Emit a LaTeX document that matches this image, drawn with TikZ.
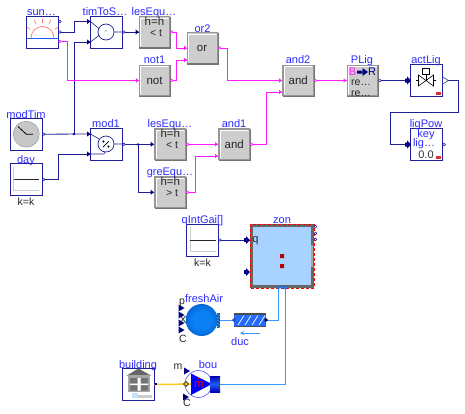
\documentclass[tikz,border=0pt]{standalone}
\usepackage{fontspec}
\setmainfont{Liberation Sans}
\usetikzlibrary{calc,shadings}
\definecolor{lblue}{HTML}{2B2BFF}
\definecolor{mblue}{HTML}{1E1E96}
\definecolor{navy2}{HTML}{00007F}
\definecolor{pink2}{HTML}{FF1CFF}
\definecolor{fluid}{HTML}{3399FF}
\definecolor{greyfill}{HTML}{CDCDCD}
\definecolor{greyedge}{HTML}{969696}
\definecolor{orange2}{HTML}{FFC81E}
\definecolor{zonefill}{HTML}{A8D2FF}
\definecolor{ballin}{HTML}{0A80F5}
\definecolor{ballmid}{HTML}{0568D8}
\definecolor{ballout}{HTML}{02307F}
\pgfdeclareradialshading{fluidball}{\pgfpoint{0pt}{0pt}}{color(0bp)=(ballin); color(14bp)=(ballin); color(25bp)=(ballmid); color(35bp)=(ballout); color(60bp)=(ballout)}
\tikzset{
  x=1pt,y=-1pt,
  iconbox/.style={draw=mblue,line width=0.8pt,fill=white,minimum width=32pt,minimum height=32pt,inner sep=0pt,outer sep=0pt},
  logicbox/.style={draw=greyedge,line width=1.4pt,fill=greyfill,minimum width=30.5pt,minimum height=30.5pt,inner sep=0pt,outer sep=0.7pt},
  lab/.style={text=lblue,font=\fontsize{11}{11}\selectfont,inner sep=0pt,anchor=base},
  blk/.style={text=black!85,font=\fontsize{10.5}{11}\selectfont,inner sep=0pt,anchor=base},
  logt/.style={font=\fontsize{11.5}{12}\selectfont,text=black!85,inner sep=0pt},
  sig/.style={draw=mblue,line width=0.8pt},
  boolw/.style={draw=pink2,line width=0.8pt},
  flu/.style={draw=fluid,line width=0.8pt},
  tipb/.pic={\fill[navy2] (-3.5,-2.6) -- (0,0) -- (-3.5,2.6) -- cycle;},
  tipp/.pic={\fill[pink2] (-3,-2.2) -- (0,0) -- (-3,2.2) -- cycle;},
  oportb/.pic={\draw[mblue,fill=white,line width=0.5pt] (1.2,0) circle (1.3);},
  oportp/.pic={\draw[pink2,fill=white,line width=0.6pt] (1.2,0) circle (1.3);},
  bigtip/.pic={\fill[navy2] (-6,-2) -- (-4,-2) -- (-4,-4) -- (0,0) -- (-4,4) -- (-4,2) -- (-6,2) -- cycle;},
  sidetip/.pic={\fill[navy2] (-5,-3.5) -- (1,0) -- (-5,3.5) -- cycle;},
}
\begin{document}
\begin{tikzpicture}
\useasboundingbox (0,0) rectangle (465,413);
% blocks
\node[iconbox] (sun) at (42.5,32) {};
\node[iconbox] (tim) at (106.5,32) {};
\node[logicbox] (les1) at (154.5,32) {};
\node[logicbox] (not) at (154.5,80.5) {};
\node[logicbox] (or) at (202.5,48) {};
\node[logicbox] (and2) at (298.3,80.5) {};
\node[logicbox] (plig) at (362.7,80.5) {};
\node[iconbox] (act) at (426.7,80.5) {};
\node[iconbox] (pow) at (426.7,144.5) {};
\node[iconbox] (clock) at (26.3,134.2) {};
\node[iconbox] (day) at (26.3,179.5) {};
\node[iconbox] (mod) at (106.5,144.3) {};
\node[logicbox] (les2) at (170.3,144.3) {};
\node[logicbox] (gre) at (170.3,192.3) {};
\node[logicbox] (and1) at (234.3,144.3) {};
\node[iconbox] (qint) at (202.7,240) {};
% bevels
\foreach \n in {les1,not,or,and2,plig,les2,gre,and1}{
  \draw[white,line width=1pt] ($(\n.south west)+(2,-2)$) -- ($(\n.north west)+(2,2)$) -- ($(\n.north east)+(-2,2)$);
  \draw[black!55,line width=1.1pt] ($(\n.south west)+(0.7,0)$) -- ($(\n.south east)+(0,0)$) -- ($(\n.north east)+(0,0.7)$);
}
% coordinates of ports
\coordinate (sunA) at (58.5,32);
\coordinate (sunP) at (58.5,41.5);
\coordinate (timA) at (90.5,21.5);
\coordinate (timB) at (90.5,42);
\coordinate (junT) at (74,134);
\coordinate (modA) at (90.5,134);
\coordinate (modB) at (90.5,154);
\coordinate (junM) at (138,144.3);
% wires blue
\draw[sig] (sunA) -- (74,32) -- (74,21.5) -- (timA);
\draw[sig] (timB) -- (74,42) -- (junT);
\draw[sig] (clock.east) -- (modA);
\fill[navy2] (junT) circle (1.4);
\draw[sig] (day.east) -- (58.5,179.5) -- (58.5,154) -- (modB);
\draw[sig] (tim.east) -- (les1.west);
\draw[sig] (mod.east) -- (les2.west);
\draw[sig] (junM) |- (gre.west);
\fill[navy2] (junM) circle (1.2);
\draw[sig] (plig.east) -- (act.west);
\draw[sig] (act.east) -- (458.3,80.5) -- (458.3,112.3) -- (390.3,112.3) -- (390.3,144.5) -- (pow.west);
\draw[sig] (qint.east) -- (250,240);
% wires boolean
\draw[boolw] (sunP) -- (67.5,41.5) -- (67.5,80.5) -- (not.west);
\draw[boolw] (les1.east) -- (176,32) -- (176,48) -- (187,48);
\draw[boolw] (not.east) -- (176,80.5) -- (176,60) -- (187,60);
\draw[boolw] (or.east) -- (227.5,48) -- (227.5,80.5) -- (and2.west);
\draw[boolw] (les2.east) -- (and1.west);
\draw[boolw] (gre.east) -- (195,192.3) -- (195,156) -- (218,156);
\draw[boolw] (and1.east) -- (266,144.3) -- (266,92) -- (282,92);
\draw[boolw] (and2.east) -- (plig.west);
% tips
\foreach \p in {(90.5,21.5),(90.5,42),(90.5,134),(90.5,154),(139,32),(154,144.3),(154,192.3)} \path \p pic {tipb};
\foreach \p in {(139,80.5),(187,48),(187,60),(282,80.5),(282,92),(218,144.3),(218,156),(346.5,80.5)} \path \p pic {tipp};
\foreach \p in {(58.7,21.5),(58.7,32)} \path \p pic {oportb};
\path (58.7,41.5) pic {oportp};
\foreach \p in {(122.7,32),(122.7,144.3),(42.5,134.2),(42.5,179.5),(218.7,240),(378.7,80.5)} \path \p pic {oportb};
\foreach \p in {(170.5,32),(170.5,80.5),(218.5,48),(186.3,144.3),(186.3,192.3),(250.3,144.3),(314.3,80.5)} \path \p pic {oportp};
% sun icon
\draw[red!55!white,line width=0.7pt] (31,38) arc (180:360:11.5);
\foreach \a in {35,65,90,115,145} \draw[red!55!white,line width=0.6pt] ($(42.5,38)+({15*cos(\a)},{-15*sin(\a)})$) -- ($(42.5,38)+({19.5*cos(\a)},{-19.5*sin(\a)})$);
\draw[fluid!60!blue,line width=1pt] (26.5,38.5) -- (58.5,38.5);
% add icon
\draw[mblue,line width=0.7pt] (106,32) circle (8);
\draw[mblue,line width=0.6pt] (90.5,21.5) -- (99,28.5) (90.5,42) -- (99,35.5) (114,32) -- (122.5,32);
\node[font=\fontsize{8}{8}\selectfont,text=black!70] (minus) at (106,32) {-};
% div icon
\draw[mblue,line width=0.7pt] (106,144) circle (8);
\draw[mblue,line width=0.6pt] (90.5,134) -- (99,139) (90.5,154) -- (104,154) -- (105,152) (114,144) -- (122.5,144);
\draw[black,line width=0.7pt] (103,147) -- (109,141);
\fill[black] (103.5,141.5) circle (1.1) (108.5,146.5) circle (1.1);
% clock
\fill[black!22] (clock.center) circle (13);
\draw[black!45,line width=0.4pt] (clock.center) circle (13);
\draw[black,line width=0.8pt] (18,126.5) -- (26.3,134.2) -- (33,134.2);
% ramps/constants
\foreach \n in {day,qint}{
  \path (\n.center) coordinate (c);
  \draw[black!20,line width=0.7pt] ($(c)+(-12.5,-13)$) -- ($(c)+(-12.5,11)$) -- ($(c)+(13,11)$);
  \draw[black!85,line width=0.8pt] ($(c)+(-12.5,0)$) -- ($(c)+(13,0)$);
}
% logic text
\node[logt] (t1) at (154.5,21) {h=h};
\node[blk,anchor=center] (t2) at (156,33) {< t};
\node[logt] (t3) at (170.3,133) {h=h};
\node[blk,anchor=center] (t4) at (172,145) {< t};
\node[logt] (t5) at (170.3,181) {h=h};
\node[blk,anchor=center] (t6) at (172,193) {> t};
\node[logt] (t7) at (154.5,80.5) {not};
\node[logt] (t8) at (202,48.5) {or};
\node[logt] (t9) at (298.3,80.5) {and};
\node[logt] (t10) at (234.3,144.5) {and};
% PLig
\node[font=\fontsize{11}{11}\selectfont,text=pink2,inner sep=0pt] (pb) at (352.5,72) {B};
\node[font=\fontsize{11}{11}\selectfont,text=navy2,inner sep=0pt] (pr) at (372,72) {R};
\fill[navy2] (357,70.5) rectangle (363,73.5) (362.5,68) -- (368,72) -- (362.5,76) -- cycle;
\node[blk] (p1) at (361,85) {re…};
\node[blk] (p2) at (361,96) {re…};
% actLig
\draw[black,line width=0.6pt,fill=white] (422.5,68) rectangle (429.5,74.5);
\draw[black,line width=0.6pt] (426,74.5) -- (426,80.5);
\draw[black,line width=0.6pt] (418.5,75) -- (433.5,86) -- (433.5,75) -- (418.5,86) -- cycle;
\draw[black,line width=0.6pt] (416,80.5) -- (418.5,80.5) (433.5,80.5) -- (436,80.5);
\fill[red!60!gray] (436,92) rectangle (441,94.5);
\fill[white] (442.7,77) -- (448.5,80.5) -- (442.7,84) -- cycle;
\draw[mblue,line width=0.5pt] (442.7,77) -- (448.5,80.5) -- (442.7,84) -- cycle;
\path (411,80.5) pic {bigtip};
\path (411,144.5) pic {bigtip};
% ligPow
\node[lab] (kk) at (426,137) {key};
\node[lab] (ll) at (424,146.5) {lig…};
\node[font=\fontsize{11}{11}\selectfont,text=black!80,inner sep=0pt] (zz) at (426,154.5) {0.0};
\fill[red!60!gray] (436,156) rectangle (441,158.5);
\path (442.9,144.5) pic {oportb};
% labels
\node[lab] at (41.5,15) {sun…};
\node[lab] at (105,15) {timToS…};
\node[lab] at (154,15) {lesEqu…};
\node[lab] at (154.5,63) {not1};
\node[lab] at (202.5,32) {or2};
\node[lab] at (298,63) {and2};
\node[lab] at (362,63) {PLig};
\node[lab] at (426,63) {actLig};
\node[lab] at (426,127) {ligPow};
\node[lab] at (26,118) {modTim};
\node[lab] at (26,163) {day};
\node[lab] at (106,127) {mod1};
\node[lab] at (170,127) {lesEqu…};
\node[lab] at (170,175) {greEqu…};
\node[lab] at (234,127) {and1};
\node[blk] at (26,205.5) {k=k};
\node[lab] at (202.5,223) {qIntGai[]};
\node[blk] at (202.5,266) {k=k};
% zone
\node[lab] at (282,223.5) {zon};
\node[draw=black!60,line width=2.6pt,fill=zonefill,minimum width=61pt,minimum height=61pt,inner sep=0pt] (zon) at (282,256) {};
\draw[red,line width=0.9pt,dash pattern=on 3pt off 2pt] (250,224) rectangle (314,288);
\fill[red!70!black] (280,254) rectangle (284,258) (280,264) rectangle (284,268);
\draw[black!35,line width=1.4pt] (312,245) -- (312,267);
\foreach \y in {226.7,233.3,239.3} \draw[mblue,fill=white,line width=0.5pt] (315.5,\y) circle (1.4);
\path (250,240) pic {bigtip};
\path (250,272) pic {bigtip};
\node[font=\fontsize{11}{11}\selectfont,text=black!85,inner sep=0pt] (q) at (255.5,241) {q};
% fluid
\coordinate (zp1) at (278.3,288);
\coordinate (zp2) at (285.3,288);
\node[circle,minimum size=32pt,inner sep=0pt,outer sep=0pt,shading=fluidball] (fa) at (201.7,320) {};
\node[minimum width=32pt,minimum height=13pt,inner sep=0pt,fill=fluid!70!blue] (duc) at (250,320) {};
\draw[black!70,line width=1.8pt] (234,313.8) -- (266,313.8);
\draw[black!70,line width=1.2pt] (234,326.5) -- (266,326.5);
\foreach \x in {238,245,252,259} \draw[white,line width=0.7pt] (\x,325) -- (\x+6,315.5);
\draw[flu] (218,320) -- (duc.west);
\draw[flu] (duc.east) -- (278.3,320) -- (zp1);
\draw[flu] (zp2) -- (285.3,384) -- (220,384);
\foreach \x in {278.3,281.8,285.3} \draw[mblue!50!fluid,fill=fluid,line width=0.5pt] (\x,287.5) circle (1.6);
\draw[mblue,fill=fluid,line width=0.5pt] (234,320) circle (1.5);
\draw[black,fill=navy2,line width=0.5pt] (266,320) circle (1.5);
\fill[black!50!fluid] (216.5,312.5) rectangle (220,327.5);
\foreach \y in {313.5,316.5,319.5,322.5,325.5} \fill[fluid] (217,\y) rectangle (218.5,\y+1.3) (218.5,\y+1.4) rectangle (220,\y+2.4);
\foreach \y in {308,315,323,330} \path (183.5,\y) pic {sidetip};
\node[blk] (tp) at (182,304.5) {p};
\node[blk] (tx) at (183,323.5) {X};
\node[blk] (tc) at (183,342) {C};
\node[lab] (fal) at (204,302) {freshAir};
\node[lab] at (240,345) {duc};
\draw[fluid,line width=0.9pt,-stealth] (260,333) -- (240,333);
% building
\node[iconbox] (bld) at (138.5,384.5) {};
\fill[black!60] (126.7,375.5) -- (138.5,368.5) -- (151,375.5) -- cycle;
\fill[black!35] (127.5,375) rectangle (150,392);
\fill[black!55] (130,378) rectangle (137.5,383.5) (140.5,378) rectangle (148,383.5) (130,385) rectangle (137.5,390.5) (140.5,385) rectangle (148,390.5);
\fill[white] (137.5,378) rectangle (140.5,390.5) (130,383.5) rectangle (148,385);
\fill[fluid!30!white] (132,393) rectangle (138,398);
\fill[black!20] (138,394.5) rectangle (152,398);
\node[lab] at (138,368) {building};
% bou
\node[circle,draw=blue!60,fill=white,line width=0.7pt,minimum size=27pt,inner sep=0pt,outer sep=0pt] (bou) at (198.5,384) {};
\draw[orange2,line width=1.5pt] (bld.east) -- (bou.center);
\fill[blue] (191,373.5) -- (212,384) -- (191,395) -- cycle;
\node[font=\fontsize{11}{11}\selectfont,text=red,inner sep=0pt] (md) at (199,385) {m};
\fill[red] (198.5,378.5) circle (0.6);
\draw[black,fill=orange2,line width=0.4pt] (183.5,384) -- (186,381.5) -- (188.5,384) -- (186,386.5) -- cycle;
\fill[navy2] (154.5,383) rectangle (157,385);
\shade[top color=blue!70!black,bottom color=blue!70!black,middle color=fluid!60!blue] (210,376) rectangle (220,392);
\foreach \y in {378,381,384,387} \fill[black!70] (217.5,\y) rectangle (219.5,\y+1.3);
\node[lab] at (208,368) {bou};
\node[blk] at (178,369) {m};
\node[blk] at (187,406) {C};
\path (189,371) pic {sidetip};
\path (188,397) pic {sidetip};
\end{tikzpicture}
\end{document}
